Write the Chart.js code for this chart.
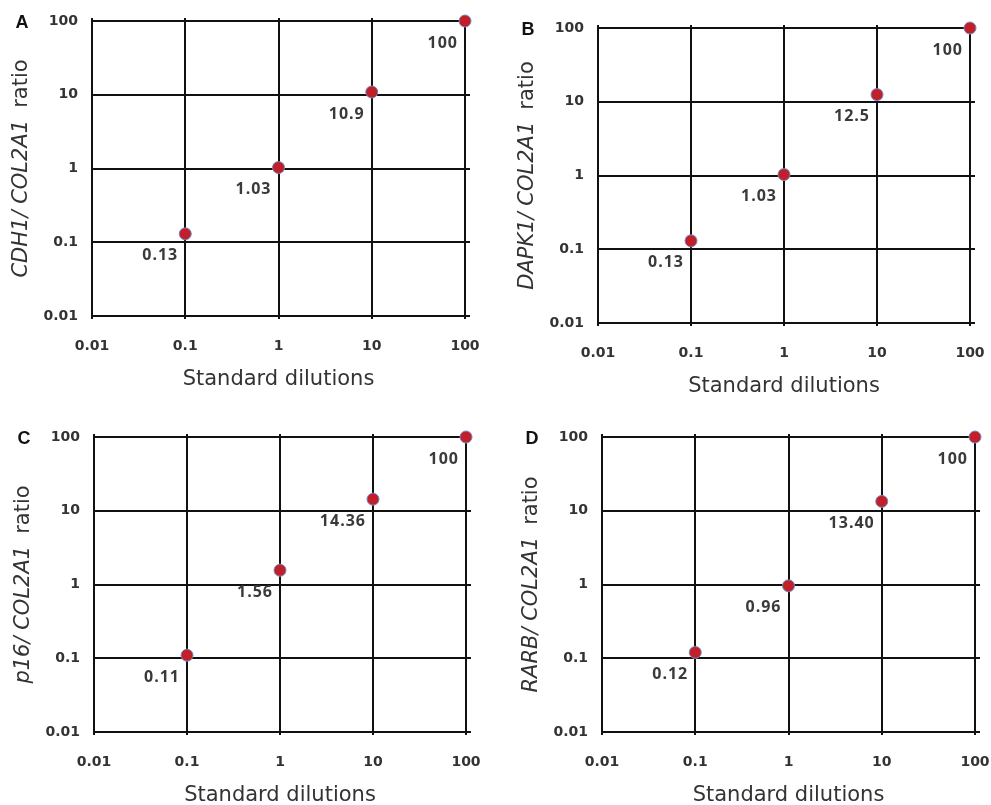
<!DOCTYPE html>
<html>
<head>
<meta charset="utf-8">
<title>Standard dilution curves</title>
<script src="https://cdn.jsdelivr.net/npm/chart.js@4.4.0/dist/chart.umd.min.js"></script>
<style>
    body { margin: 0; background: #fff; }
    canvas { position: absolute; }
</style>
</head>
<body>
<canvas id="chartA" width="495" height="402" style="left:0;top:0"></canvas>
<canvas id="chartB" width="496" height="402" style="left:495px;top:0"></canvas>
<canvas id="chartC" width="495" height="403" style="left:0;top:402px"></canvas>
<canvas id="chartD" width="496" height="403" style="left:495px;top:402px"></canvas>

<script>
    // x values: standard dilutions
    const dilutions = [0.1, 1, 10, 100];
    const tickValues = [0.01, 0.1, 1, 10, 100];
    const tickLabels = ['0.01', '0.1', '1', '10', '100'];
    const xTitle = 'Standard dilutions';

    // measured ratios, one array per gene
    const cdh1Ratio = [0.13, 1.03, 10.9, 100];
    const dapk1Ratio = [0.13, 1.03, 12.5, 100];
    const p16Ratio = [0.11, 1.56, 14.36, 100];
    const rarbRatio = [0.12, 0.96, 13.40, 100];

    // printed value labels
    const cdh1Labels = ['0.13', '1.03', '10.9', '100'];
    const dapk1Labels = ['0.13', '1.03', '12.5', '100'];
    const p16Labels = ['0.11', '1.56', '14.36', '100'];
    const rarbLabels = ['0.12', '0.96', '13.40', '100'];

    // canvas box and plot area, page coords
    const panels = [
        { id: 'chartA', letter: 'A', gene: 'CDH1', ratio: cdh1Ratio, labels: cdh1Labels,
          box: [0, 0, 495, 402], area: [92, 21, 465, 316] },
        { id: 'chartB', letter: 'B', gene: 'DAPK1', ratio: dapk1Ratio, labels: dapk1Labels,
          box: [495, 0, 496, 402], area: [598, 28, 970, 323] },
        { id: 'chartC', letter: 'C', gene: 'p16', ratio: p16Ratio, labels: p16Labels,
          box: [0, 402, 495, 403], area: [94, 437, 466, 732] },
        { id: 'chartD', letter: 'D', gene: 'RARB', ratio: rarbRatio, labels: rarbLabels,
          box: [495, 402, 496, 403], area: [602, 437, 975, 732] }
    ];

    const INK = '#333';
    const LINE = '#111';

    // value labels, panel letter, axis titles
    const decor = {
        id: 'decor',
        beforeDatasetsDraw(chart) {
            // grid lines poke a little past the frame
            const ctx = chart.ctx;
            const a = chart.chartArea;
            const xs = chart.scales.x, ys = chart.scales.y;
            ctx.save();
            ctx.strokeStyle = LINE;
            ctx.lineWidth = 2;
            tickValues.forEach(v => {
                const y = Math.round(ys.getPixelForValue(v));
                ctx.beginPath();
                ctx.moveTo(a.right, y);
                ctx.lineTo(a.right + 5, y);
                ctx.stroke();
                const x = Math.round(xs.getPixelForValue(v));
                ctx.beginPath();
                ctx.moveTo(x, a.top - 3);
                ctx.lineTo(x, a.top);
                ctx.moveTo(x, a.bottom);
                ctx.lineTo(x, a.bottom + 3);
                ctx.stroke();
            });
            ctx.restore();
        },
        afterDatasetsDraw(chart, args, opts) {
            const ctx = chart.ctx;
            const meta = chart.getDatasetMeta(0);
            ctx.save();
            ctx.font = 'bold 16px "Open Sans"';
            ctx.letterSpacing = '1px';
            ctx.fillStyle = '#3a3a3a';
            ctx.textAlign = 'right';
            ctx.textBaseline = 'middle';
            meta.data.forEach((pt, i) => {
                ctx.fillText(opts.labels[i], pt.x - 7, pt.y + 22);
            });
            ctx.restore();
        },
        afterDraw(chart, args, opts) {
            const ctx = chart.ctx;
            const a = chart.chartArea;
            ctx.save();

            ctx.fillStyle = '#111';
            ctx.textAlign = 'center';
            ctx.textBaseline = 'middle';
            ctx.font = 'bold 18px "Liberation Sans"';
            ctx.fillText(opts.letter, a.left - 70, a.top + 2);

            ctx.fillStyle = INK;
            ctx.font = '21px "DejaVu Sans"';
            ctx.fillText(xTitle, (a.left + a.right) / 2, a.bottom + 64);

            // y title: gene pair in italics, "ratio" upright
            ctx.translate(a.left - 70, (a.top + a.bottom) / 2);
            ctx.rotate(-Math.PI / 2);
            const italic = 'italic 21px "DejaVu Sans"';
            const upright = '21px "DejaVu Sans"';
            const part1 = opts.gene + '/ COL2A1';
            const part2 = 'ratio';
            ctx.font = italic;
            const w1 = ctx.measureText(part1).width;
            ctx.font = upright;
            const w2 = ctx.measureText(part2).width;
            const gap = 12;
            const x0 = -(w1 + gap + w2) / 2;
            ctx.textAlign = 'left';
            ctx.font = italic;
            ctx.fillText(part1, x0, 0);
            ctx.font = upright;
            ctx.fillText(part2, x0 + w1 + gap, 0);
            ctx.restore();
        }
    };

    function logAxis(pos, fitSize, pad) {
        return {
            type: 'logarithmic',
            position: pos,
            min: 0.01,
            max: 100,
            afterBuildTicks: scale => {
                scale.ticks = tickValues.map(v => ({ value: v }));
            },
            afterFit: scale => {
                if (pos === 'left') scale.width = fitSize;
                else scale.height = fitSize;
                scale.paddingLeft = 0;
                scale.paddingRight = 0;
                scale.paddingTop = 0;
                scale.paddingBottom = 0;
            },
            grid: {
                color: LINE,
                lineWidth: 2,
                drawTicks: false
            },
            border: { display: true, color: LINE, width: 2 },
            ticks: {
                autoSkip: false,
                maxRotation: 0,
                padding: pad,
                color: INK,
                font: { family: 'DejaVu Sans', size: 14, weight: 'bold' },
                callback: v => tickLabels[tickValues.indexOf(v)]
            }
        };
    }

    panels.forEach(p => {
        const [bx, by, bw, bh] = p.box;
        const [l, t, r, b] = p.area;
        const ctx = document.getElementById(p.id).getContext('2d');
        new Chart(ctx, {
            type: 'scatter',
            data: {
                datasets: [{
                    data: dilutions.map((d, i) => ({ x: d, y: p.ratio[i] })),
                    backgroundColor: '#c1202b',
                    borderColor: '#7487bd',
                    borderWidth: 1,
                    pointRadius: 6,
                    pointHoverRadius: 6,
                    clip: false
                }]
            },
            options: {
                responsive: false,
                animation: false,
                events: [],
                layout: {
                    padding: { left: 0, top: t - by, right: bx + bw - r, bottom: 0 }
                },
                plugins: {
                    legend: { display: false },
                    tooltip: { enabled: false },
                    decor: { letter: p.letter, gene: p.gene, labels: p.labels }
                },
                scales: {
                    x: logAxis('bottom', by + bh - b, 22),
                    y: logAxis('left', l - bx, 14)
                }
            },
            plugins: [decor]
        });
    });
</script>
</body>
</html>
